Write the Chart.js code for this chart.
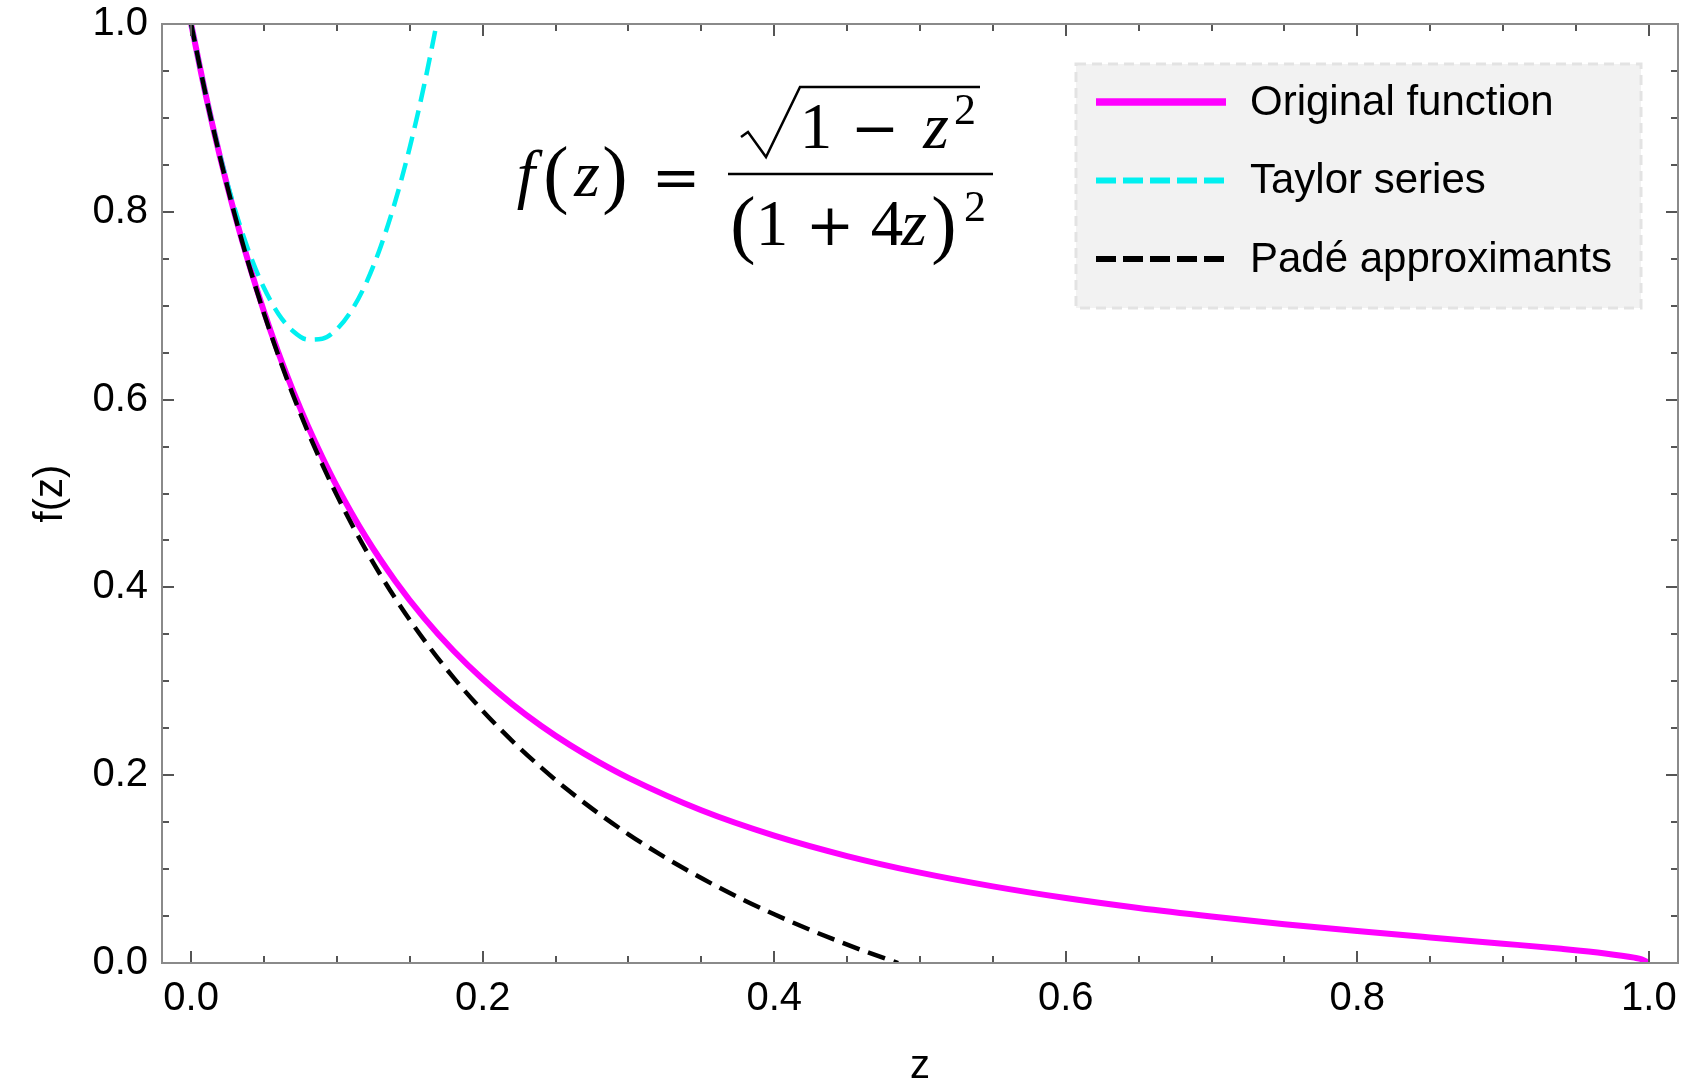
<!DOCTYPE html>
<html>
<head>
<meta charset="utf-8">
<script src="https://cdn.jsdelivr.net/npm/chart.js@4.4.1/dist/chart.umd.min.js"></script>
<style>
  html, body { margin: 0; padding: 0; background: #fff; }
  canvas { display: block; }
</style>
</head>
<body>
<canvas id="chart" width="1682" height="1085"></canvas>
<script>
'use strict';

// values
const zOrig = [0, 0.01, 0.02, 0.03, 0.04, 0.05, 0.06, 0.07, 0.08, 0.09, 0.10, 0.12, 0.14, 0.16, 0.18, 0.20, 0.22, 0.24, 0.26, 0.28, 0.30,
  0.35, 0.40, 0.45, 0.50, 0.55, 0.60, 0.65, 0.70, 0.75, 0.80, 0.85, 0.90, 0.94, 0.97, 0.99, 0.995, 1.0];
const fOrig = [1, 0.9245, 0.8572, 0.7968, 0.7426, 0.6936, 0.6492, 0.6089, 0.5721, 0.5385, 0.5076, 0.4532, 0.4069, 0.3670, 0.3325, 0.3024, 0.2760, 0.2527, 0.2320, 0.2136, 0.1971,
  0.1626, 0.1356, 0.1139, 0.0962, 0.0816, 0.0692, 0.0586, 0.0495, 0.0413, 0.0340, 0.0272, 0.0206, 0.0151, 0.0102, 0.0057, 0.0040, 0];

const zTaylor = [0, 0.01, 0.02, 0.03, 0.04, 0.05, 0.06, 0.07, 0.08, 0.09, 0.10, 0.11, 0.12, 0.13, 0.14, 0.15, 0.16, 0.17];
const fTaylor = [1, 0.9248, 0.859, 0.8028, 0.756, 0.7188, 0.691, 0.6728, 0.664, 0.6648, 0.675, 0.6948, 0.724, 0.7628, 0.811, 0.8688, 0.936, 1.0128];

const zPade = [0, 0.01, 0.02, 0.03, 0.04, 0.05, 0.06, 0.07, 0.08, 0.09, 0.10, 0.12, 0.14, 0.16, 0.18, 0.20, 0.22, 0.24, 0.26, 0.28, 0.30,
  0.32, 0.34, 0.36, 0.38, 0.40, 0.42, 0.44, 0.46, 0.485];
const fPade = [1, 0.9245, 0.857, 0.7963, 0.7414, 0.6916, 0.6461, 0.6044, 0.5661, 0.5308, 0.498, 0.4394, 0.3884, 0.3436, 0.3039, 0.2686, 0.2369, 0.2083, 0.1823, 0.1587, 0.1371,
  0.1172, 0.0990, 0.0821, 0.0664, 0.0519, 0.0383, 0.0256, 0.0137, 0];

const seriesNames = ['Original function', 'Taylor series', 'Padé approximants'];
const xLabel = 'z';
const yLabel = 'f(z)';

const SANS = '"Liberation Sans", Arial, sans-serif';
const SERIF = '"Liberation Serif", "Times New Roman", serif';
const OPS = '"DejaVu Serif", serif';

const pts = (xs, ys) => xs.map((x, i) => ({x, y: ys[i]}));
const isMajor = v => Math.abs(v / 0.2 - Math.round(v / 0.2)) < 1e-6;

// inward ticks on all four sides + frame
const frameTicks = {
  id: 'frameTicks',
  afterDatasetsDraw(chart) {
    const {ctx, chartArea: a, scales} = chart;
    ctx.save();
    ctx.strokeStyle = '#555';
    ctx.lineWidth = 2;
    ctx.beginPath();
    scales.x.ticks.forEach(t => {
      const px = Math.round(scales.x.getPixelForValue(t.value));
      const len = t.label ? 12 : 7;
      ctx.moveTo(px, a.bottom); ctx.lineTo(px, a.bottom - len);
      ctx.moveTo(px, a.top); ctx.lineTo(px, a.top + len);
    });
    scales.y.ticks.forEach(t => {
      const py = Math.round(scales.y.getPixelForValue(t.value));
      const len = t.label ? 12 : 7;
      ctx.moveTo(a.left, py); ctx.lineTo(a.left + len, py);
      ctx.moveTo(a.right, py); ctx.lineTo(a.right - len, py);
    });
    ctx.stroke();
    ctx.strokeStyle = '#8a8a8a';
    ctx.lineWidth = 2;
    ctx.strokeRect(a.left, a.top, a.right - a.left, a.bottom - a.top);
    ctx.restore();
  }
};

// legend box inside the plot, top right
const boxLegend = {
  id: 'boxLegend',
  afterDraw(chart) {
    const {ctx, chartArea: a} = chart;
    const bx = a.right - 602, by = a.top + 40, bw = 565, bh = 244;
    ctx.save();
    ctx.fillStyle = '#f2f2f2';
    ctx.fillRect(bx, by, bw, bh);
    ctx.strokeStyle = '#e3e3e3';
    ctx.lineWidth = 3;
    ctx.setLineDash([10, 6]);
    ctx.strokeRect(bx, by, bw, bh);
    chart.data.datasets.forEach((ds, i) => {
      const y = by + 38 + i * 78.5;
      ctx.strokeStyle = ds.borderColor;
      ctx.lineWidth = ds.borderWidth + 1.5;
      ctx.setLineDash(ds.borderDash ? [20, 7] : []);
      ctx.beginPath();
      ctx.moveTo(bx + 20, y);
      ctx.lineTo(bx + 150, y);
      ctx.stroke();
      ctx.setLineDash([]);
      ctx.fillStyle = '#000';
      ctx.font = '42px ' + SANS;
      ctx.textAlign = 'left';
      ctx.textBaseline = 'middle';
      ctx.fillText(ds.label, bx + 174, y + 1);
    });
    ctx.restore();
  }
};

// f(z) = sqrt(1 - z^2) / (1 + 4z)^2
const formula = {
  id: 'formula',
  afterDraw(chart) {
    const {ctx} = chart;
    const rm = '65px ' + SERIF, itI = 'italic 66px ' + SERIF, par = '76px ' + SERIF,
      op = '58px ' + OPS, sup = '44px ' + SERIF;
    const put = (t, x, y, font) => { ctx.font = font; ctx.fillText(t, x, y); };
    ctx.save();
    ctx.fillStyle = '#000';
    ctx.strokeStyle = '#000';
    ctx.textAlign = 'center';
    ctx.textBaseline = 'alphabetic';
    // left side
    put('f', 526, 196, itI);
    put('(', 556, 199, par);
    put('z', 587, 196, itI);
    put(')', 615, 199, par);
    put('=', 676, 197, op);
    // fraction bar
    ctx.lineWidth = 2.5;
    ctx.beginPath();
    ctx.moveTo(728, 174); ctx.lineTo(993, 174);
    ctx.stroke();
    // radical
    ctx.beginPath();
    ctx.moveTo(741, 137); ctx.lineTo(748, 132);
    ctx.lineTo(766, 157); ctx.lineTo(800, 87); ctx.lineTo(980, 87);
    ctx.stroke();
    // numerator
    put('1', 816, 148, rm);
    put('\u2212', 875, 148, op);
    put('z', 936, 148, itI);
    put('2', 965, 124, sup);
    // denominator
    put('(', 743, 249, par);
    put('1', 772, 245, rm);
    put('+', 830, 245, op);
    put('4', 887, 245, rm);
    put('z', 914, 245, itI);
    put(')', 944, 249, par);
    put('2', 975, 221, sup);
    ctx.restore();
  }
};

const chart = new Chart(document.getElementById('chart'), {
  type: 'line',
  data: {
    datasets: [
      {label: seriesNames[0], data: pts(zOrig, fOrig), borderColor: '#ff00ff', borderWidth: 6, order: 3},
      {label: seriesNames[1], data: pts(zTaylor, fTaylor), borderColor: '#00f0f0', borderWidth: 4.5, borderDash: [18, 9], order: 2},
      {label: seriesNames[2], data: pts(zPade, fPade), borderColor: '#000000', borderWidth: 4.5, borderDash: [18, 9], order: 1},
    ]
  },
  options: {
    responsive: false,
    animation: false,
    devicePixelRatio: 1,
    layout: {padding: {top: 24, right: 4, left: 0, bottom: 0}},
    elements: {point: {radius: 0}, line: {cubicInterpolationMode: 'monotone', fill: false}},
    plugins: {legend: {display: false}, tooltip: {enabled: false}},
    scales: {
      x: {
        type: 'linear', min: -0.02, max: 1.02,
        afterFit: s => { s.height = 122; s.paddingLeft = 0; s.paddingRight = 0; },
        border: {display: false},
        grid: {drawOnChartArea: false, drawTicks: false},
        ticks: {
          stepSize: 0.05, includeBounds: false, autoSkip: false, maxRotation: 0, padding: 12,
          color: '#000', font: {family: SANS, size: 40},
          callback: v => isMajor(v) ? v.toFixed(1) : ''
        },
        title: {display: true, text: xLabel, color: '#000', font: {family: SANS, size: 40, lineHeight: 0.9}, padding: {top: 0, bottom: 0}}
      },
      y: {
        type: 'linear', min: 0, max: 1,
        afterFit: s => { s.width = 162; s.paddingTop = 0; s.paddingBottom = 0; },
        border: {display: false},
        grid: {drawOnChartArea: false, drawTicks: false},
        ticks: {
          stepSize: 0.05, includeBounds: false, autoSkip: false, padding: 14,
          color: '#000', font: {family: SANS, size: 40},
          callback: v => isMajor(v) ? v.toFixed(1) : ''
        },
        title: {display: true, text: yLabel, color: '#000', font: {family: SANS, size: 40, lineHeight: 1}, padding: {top: 31, bottom: 0}}
      }
    }
  },
  plugins: [frameTicks, boxLegend, formula]
});
</script>
</body>
</html>
